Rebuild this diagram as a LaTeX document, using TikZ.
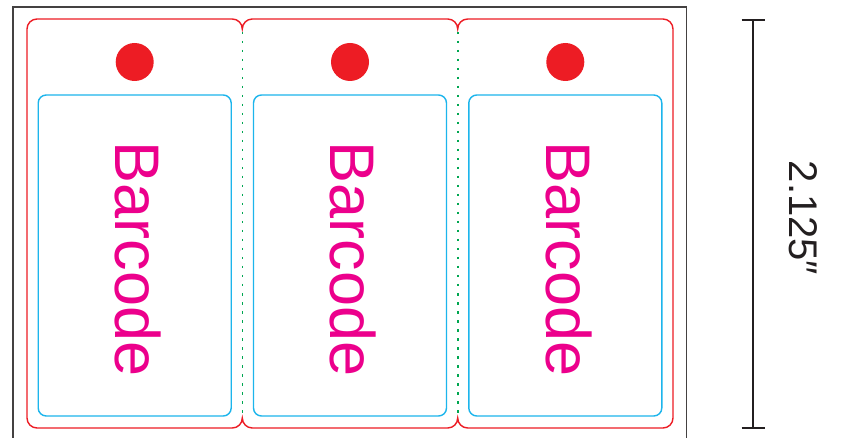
\documentclass[tikz,border=0pt]{standalone}
\usepackage{fontspec}
\setmainfont{Liberation Sans}
\definecolor{tagred}{HTML}{ED1C24}
\definecolor{tagblue}{HTML}{1CB5EC}
\definecolor{tagmag}{HTML}{EC008C}
\definecolor{taggreen}{HTML}{00A651}
\definecolor{ink}{HTML}{231F20}
\tikzset{
  cutline/.style={draw=tagred, line width=1.4pt},
  safebox/.style={draw=tagblue, line width=1.4pt, rounded corners=8pt},
  perf/.style={draw=taggreen, line width=1.6pt, dash pattern=on 2.5pt off 6.5pt},
  hole/.style={fill=tagred, draw=none},
  frame/.style={draw=ink!85, line width=1.4pt},
  dimline/.style={draw=ink, line width=2pt},
  bartext/.style={text=tagmag, font=\fontsize{63}{63}\selectfont, rotate=-90, inner sep=0pt},
  dimtext/.style={text=ink, font=\fontsize{40}{40}\selectfont, rotate=-90, inner sep=0pt},
}
\begin{document}
\begin{tikzpicture}[x=1pt,y=1pt]
\useasboundingbox (0,0) rectangle (841,437);
\fill[white] (0,0) rectangle (841,437);
% outer frame
\draw[frame] (13,-3) -- (13,430) -- (686.5,430) -- (686.5,-3);
\def\T{418}\def\B{9}\def\r{10}
\def\Xa{27}\def\Xb{242.3}\def\Xc{457.7}\def\Xd{673}
% cut line with cusps
\draw[cutline] (\Xa,\B+\r) -- (\Xa,\T-\r) arc[start angle=180,end angle=90,radius=\r]
  -- (\Xb-\r,\T) arc[start angle=90,end angle=0,radius=\r] arc[start angle=180,end angle=90,radius=\r]
  -- (\Xc-\r,\T) arc[start angle=90,end angle=0,radius=\r] arc[start angle=180,end angle=90,radius=\r]
  -- (\Xd-\r,\T) arc[start angle=90,end angle=0,radius=\r]
  -- (\Xd,\B+\r) arc[start angle=0,end angle=-90,radius=\r]
  -- (\Xc+\r,\B) arc[start angle=-90,end angle=-180,radius=\r] arc[start angle=0,end angle=-90,radius=\r]
  -- (\Xb+\r,\B) arc[start angle=-90,end angle=-180,radius=\r] arc[start angle=0,end angle=-90,radius=\r]
  -- (\Xa+\r,\B) arc[start angle=-90,end angle=-180,radius=\r] -- cycle;
% perforations
\coordinate (p1t) at (\Xb,\T-13); \coordinate (p1b) at (\Xb,\B+13);
\coordinate (p2t) at (\Xc,\T-13); \coordinate (p2b) at (\Xc,\B+13);
\draw[perf] (p1t) -- (p1b);
\draw[perf] (p2t) -- (p2b);
% tags
\foreach \cx/\n in {134.7/1, 350/2, 565.3/3}{
  \fill[hole] (\cx,375) circle[radius=19];
  \draw[safebox] (\cx-96.5,21) rectangle (\cx+96.5,342);
  \node[bartext] (bc\n) at (\cx+3.5,178) {Barcode};
}
% dimension
\coordinate (dt) at (753,417); \coordinate (db) at (753,9);
\draw[dimline] (dt) -- (db);
\draw[dimline] ([xshift=-11.5pt]dt) -- ([xshift=11.5pt]dt);
\draw[dimline] ([xshift=-11.5pt]db) -- ([xshift=11.5pt]db);
\node[dimtext] (dim) at (803,219) {2.125″};
\end{tikzpicture}
\end{document}
